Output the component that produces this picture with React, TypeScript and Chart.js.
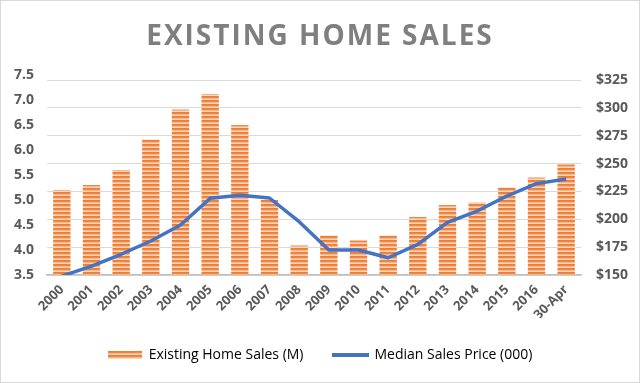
import React, { useEffect, useRef } from 'react';
import { Chart, registerables } from 'chart.js';

Chart.register(...registerables);

const categories = ['2000', '2001', '2002', '2003', '2004', '2005', '2006', '2007', '2008', '2009', '2010', '2011', '2012', '2013', '2014', '2015', '2016', '30-Apr'];
const homeSales = [5.2, 5.3, 5.6, 6.21, 6.81, 7.12, 6.5, 5.0, 4.09, 4.29, 4.19, 4.29, 4.66, 4.9, 4.95, 5.25, 5.45, 5.71];
const medianPrice = [149, 158, 168.6, 180.5, 194.9, 218.8, 221.5, 219.1, 197.8, 172.4, 172.4, 165.5, 177.5, 197.3, 207.4, 220.9, 232, 236.2];
const leftTicks = [3.5, 4.0, 4.5, 5.0, 5.5, 6.0, 6.5, 7.0, 7.5];
const rightTicks = [150, 175, 200, 225, 250, 275, 300, 325];
const titleText = 'EXISTING HOME SALES';
const barLabel = 'Existing Home Sales (M)';
const lineLabel = 'Median Sales Price (000)';

function makeStripeCanvas(w: number, h: number) {
  const c = document.createElement('canvas');
  c.width = w;
  c.height = h;
  const ctx = c.getContext('2d')!;
  const rows = ['#ED7D31', '#EF8843', '#F6B68B', '#FBD7BF'];
  for (let y = 0; y < h; y++) {
    ctx.fillStyle = rows[y % rows.length];
    ctx.fillRect(0, y, w, 1);
  }
  return c;
}

export default function App() {
  const canvasRef = useRef<HTMLCanvasElement | null>(null);

  useEffect(() => {
    const canvas = canvasRef.current;
    if (!canvas) return;
    Chart.defaults.font.family = '"Open Sans", sans-serif';
    const ctx = canvas.getContext('2d')!;
    const tile = makeStripeCanvas(4, 4);
    const pattern = ctx.createPattern(tile, 'repeat')!;
    const barSwatch = makeStripeCanvas(34, 8);
    const lineSwatch = document.createElement('canvas');
    lineSwatch.width = 37;
    lineSwatch.height = 4;
    const lctx = lineSwatch.getContext('2d')!;
    lctx.fillStyle = '#4472C4';
    lctx.fillRect(0, 0, 37, 4);

    const chart = new Chart(canvas, {
      type: 'bar',
      data: {
        labels: categories,
        datasets: [
          {
            type: 'bar',
            label: barLabel,
            data: homeSales,
            backgroundColor: pattern,
            borderWidth: 0,
            yAxisID: 'y',
            categoryPercentage: 1,
            barPercentage: 0.585,
            order: 2,
          },
          {
            type: 'line',
            label: lineLabel,
            data: medianPrice,
            borderColor: '#4472C4',
            backgroundColor: '#4472C4',
            borderWidth: 3.5,
            pointRadius: 0,
            tension: 0,
            borderJoinStyle: 'round',
            yAxisID: 'y1',
            order: 1,
          } as any,
        ],
      },
      options: {
        animation: false,
        responsive: false,
        layout: { padding: { top: 75, left: 0, right: 0, bottom: 11 } },
        plugins: {
          title: { display: false },
          tooltip: { enabled: false },
          legend: {
            display: true,
            position: 'bottom',
            labels: {
              usePointStyle: true,
              pointStyleWidth: 34,
              padding: 30,
              color: '#595959',
              font: { size: 14 },
              generateLabels: () => [
                { text: barLabel, fillStyle: '#ED7D31', strokeStyle: '#ED7D31', lineWidth: 0, pointStyle: barSwatch as any, hidden: false, datasetIndex: 0 },
                { text: lineLabel, fillStyle: '#4472C4', strokeStyle: '#4472C4', lineWidth: 0, pointStyle: lineSwatch as any, hidden: false, datasetIndex: 1 },
              ],
            },
          },
        },
        scales: {
          x: {
            grid: { display: false, drawTicks: false },
            border: { display: true, color: '#BFBFBF', width: 1.5 },
            ticks: {
              autoSkip: false,
              minRotation: 45,
              maxRotation: 45,
              padding: 7,
              color: '#595959',
              font: { size: 13, weight: 'bold' },
            },
            afterFit: (scale: any) => {
              scale.height = 43;
            },
          },
          y: {
            position: 'left',
            min: leftTicks[0],
            max: leftTicks[leftTicks.length - 1],
            grid: { display: false, drawTicks: false },
            border: { display: false },
            ticks: {
              stepSize: 0.5,
              padding: 13,
              color: '#595959',
              font: { size: 14, weight: 'bold' },
              callback: (v: any) => Number(v).toFixed(1),
            },
            afterBuildTicks: (scale: any) => {
              scale.ticks = leftTicks.map((v) => ({ value: v }));
            },
            afterFit: (scale: any) => {
              scale.width = 47;
            },
          },
          y1: {
            position: 'right',
            min: rightTicks[0],
            max: 329.5,
            grid: { display: true, drawTicks: false, color: '#D9D9D9', lineWidth: 1 },
            border: { display: false },
            ticks: {
              stepSize: 25,
              padding: 15,
              color: '#595959',
              font: { size: 14, weight: 'bold' },
              callback: (v: any) => '$' + v,
            },
            afterBuildTicks: (scale: any) => {
              scale.ticks = rightTicks.map((v) => ({ value: v }));
            },
            afterFit: (scale: any) => {
              scale.width = 59;
            },
          },
        },
      },
    });
    return () => chart.destroy();
  }, []);

  return (
    <div style={{ position: 'fixed', left: 0, top: 0, width: 640, height: 383, background: '#FFFFFF', overflow: 'hidden' }}>
      <canvas ref={canvasRef} width={640} height={383} style={{ position: 'absolute', left: 0, top: 0, width: 640, height: 383 }} />
      <div
        style={{
          position: 'absolute',
          left: 0,
          top: 20,
          width: 640,
          textAlign: 'center',
          fontFamily: '"Open Sans", sans-serif',
          fontWeight: 'bold',
          fontSize: 28,
          lineHeight: '28px',
          letterSpacing: '2px',
          color: '#7F7F7F',
        }}
      >
        {titleText}
      </div>
      <div style={{ position: 'absolute', left: 0, top: 0, width: 640, height: 383, boxSizing: 'border-box', border: '1px solid #D9D9D9', pointerEvents: 'none' }} />
    </div>
  );
}
